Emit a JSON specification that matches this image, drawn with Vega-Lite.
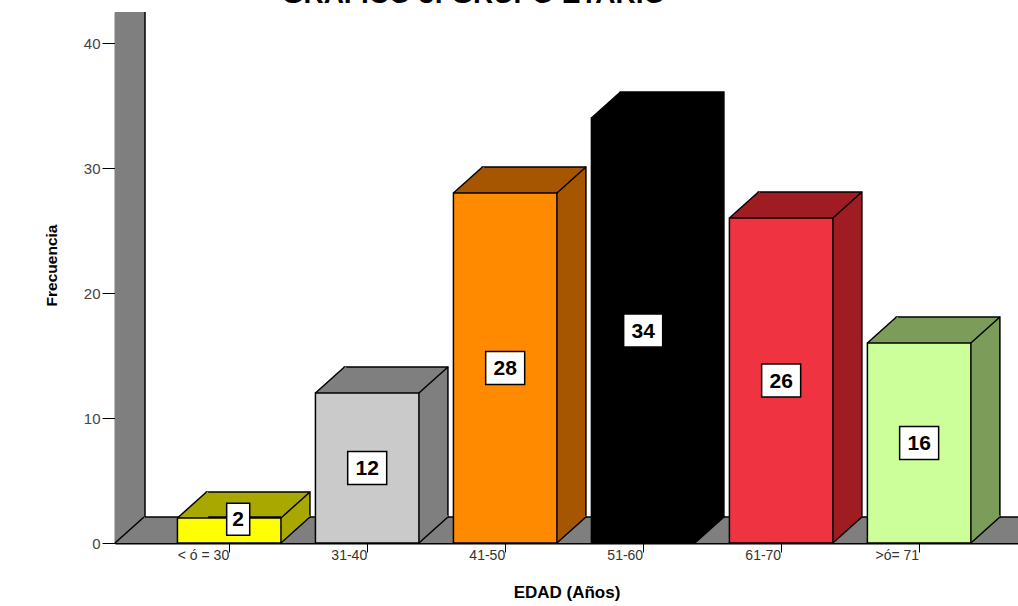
{
  "$schema": "https://vega.github.io/schema/vega-lite/v6.json",
  "width": 903,
  "height": 531,
  "autosize": {"type": "none"},
  "padding": {"left": 115, "top": 12, "right": 0, "bottom": 63},
  "title": {"text": "GRAFICO 3: GRUPO ETARIO", "font": "Liberation Sans", "fontSize": 28, "fontWeight": "bold", "color": "#000000", "anchor": "middle", "dx": -93, "baseline": "alphabetic", "offset": 2, "dy": 22},
  "config": {"view": {"stroke": null}, "font": "Liberation Sans"},
  "data": {"values": [
    {"edad": "< ó = 30", "valor": 2},
    {"edad": "31-40", "valor": 12},
    {"edad": "41-50", "valor": 28},
    {"edad": "51-60", "valor": 34},
    {"edad": "61-70", "valor": 26},
    {"edad": ">ó= 71", "valor": 16}
  ]},
  "layer": [
    {
      "data": {"values": [{"z": 0}]},
      "mark": {"type": "rect", "fill": "#7f7f7f", "y2Offset": -26},
      "encoding": {"x": {"value": 0}, "x2": {"value": "width"}, "y": {"datum": 0, "type": "quantitative", "scale": {"domain": [0, 42.48], "nice": false}}, "y2": {"datum": 0}}
    },
    {
      "data": {"values": [{"z": 0}]},
      "mark": {"type": "rect", "fill": "#7f7f7f"},
      "encoding": {"x": {"value": 0}, "x2": {"value": 30}, "y": {"datum": 0, "type": "quantitative"}, "y2": {"value": 0}}
    },
    {
      "data": {"values": [{"z": 0}]},
      "mark": {"type": "rule", "stroke": "#000000", "strokeWidth": 1.5, "yOffset": -26},
      "encoding": {"x": {"value": 30}, "y": {"datum": 0, "type": "quantitative"}, "y2": {"value": 0}}
    },
    {
      "data": {"values": [{"z": 0}]},
      "mark": {"type": "rule", "stroke": "#000000", "strokeWidth": 1.5, "yOffset": -26, "y2Offset": -26},
      "encoding": {"x": {"value": 30}, "x2": {"value": "width"}, "y": {"datum": 0, "type": "quantitative"}}
    },
    {
      "data": {"values": [{"z": 0}]},
      "mark": {"type": "point", "shape": "M0,0L1,-0.897", "size": 3364, "filled": false, "stroke": "#000000", "strokeWidth": 1.5, "opacity": 1},
      "encoding": {"x": {"value": 0}, "y": {"datum": 0, "type": "quantitative"}}
    },
    {
      "mark": {"type": "bar", "xOffset": 29, "x2Offset": 29, "yOffset": -26, "y2Offset": -26, "stroke": "#000000", "strokeWidth": 1.5},
      "encoding": {
        "x": {"field": "edad", "type": "nominal", "sort": null, "scale": {"paddingInner": 0.25, "paddingOuter": 0.397, "align": 0.57}},
        "y": {"field": "valor", "type": "quantitative", "scale": {"domain": [0, 42.48], "nice": false}},
        "fill": {"field": "edad", "type": "nominal", "sort": null, "legend": null, "scale": {"domain": ["< ó = 30", "31-40", "41-50", "51-60", "61-70", ">ó= 71"], "range": ["#a8a800", "#7f7f7f", "#a65600", "#000000", "#9e1c22", "#7c9c5a"]}}
      }
    },
    {
      "mark": {"type": "point", "shape": "M0,0L1,-0.897L1.06,-0.897L1.06,0Z", "size": 3364, "filled": true, "strokeWidth": 0, "opacity": 1},
      "encoding": {
        "x": {"field": "edad", "type": "nominal", "sort": null, "bandPosition": 0},
        "y": {"field": "valor", "type": "quantitative"},
        "fill": {"field": "edad", "type": "nominal", "sort": null, "legend": null}
      }
    },
    {
      "mark": {"type": "point", "shape": "M0,0L0,-0.95L1,-0.95L1,-0.897Z", "size": 3364, "filled": true, "strokeWidth": 0, "opacity": 1},
      "encoding": {
        "x": {"field": "edad", "type": "nominal", "sort": null, "bandPosition": 1},
        "y": {"datum": 0, "type": "quantitative"},
        "fill": {"field": "edad", "type": "nominal", "sort": null, "legend": null}
      }
    },
    {
      "mark": {"type": "bar", "stroke": "#000000", "strokeWidth": 1.5},
      "encoding": {
        "x": {"field": "edad", "type": "nominal", "sort": null, "axis": {"title": "EDAD (Años)", "titleFont": "Liberation Sans", "titleFontSize": 17, "titleFontWeight": "bold", "titleColor": "#000000", "titlePadding": 22, "labelAngle": 0, "labelFont": "Liberation Sans", "labelFontSize": 14, "labelColor": "#333333", "labelPadding": 3, "tickSize": 9, "tickColor": "#000000", "tickWidth": 1, "domainColor": "#000000", "domainWidth": 2}},
        "y": {"field": "valor", "type": "quantitative", "axis": {"title": "Frecuencia", "titleFont": "Liberation Sans", "titleFontSize": 15.5, "titleFontWeight": "bold", "titleColor": "#000000", "titlePadding": 24, "titleY": 253, "values": [0, 10, 20, 30, 40], "grid": false, "labelFont": "Liberation Sans", "labelFontSize": 15, "labelColor": "#444444", "labelPadding": 2, "tickSize": 13, "tickColor": "#000000", "tickWidth": 1, "domainColor": "#000000", "domainWidth": 1.5}},
        "color": {"field": "edad", "type": "nominal", "sort": null, "legend": null, "scale": {"domain": ["< ó = 30", "31-40", "41-50", "51-60", "61-70", ">ó= 71"], "range": ["#ffff00", "#cacaca", "#ff8a00", "#000000", "#ef3340", "#ccff99"]}}
      }
    },
    {
      "mark": {"type": "point", "shape": "M0,0L1,-0.897", "size": 3364, "filled": false, "stroke": "#000000", "strokeWidth": 1.5, "opacity": 1},
      "encoding": {"x": {"field": "edad", "type": "nominal", "sort": null, "bandPosition": 0}, "y": {"field": "valor", "type": "quantitative"}}
    },
    {
      "mark": {"type": "point", "shape": "M0,0L1,-0.897", "size": 3364, "filled": false, "stroke": "#000000", "strokeWidth": 1.5, "opacity": 1},
      "encoding": {"x": {"field": "edad", "type": "nominal", "sort": null, "bandPosition": 1}, "y": {"field": "valor", "type": "quantitative"}}
    },
    {
      "mark": {"type": "point", "shape": "M0,0L1,-0.897", "size": 3364, "filled": false, "stroke": "#000000", "strokeWidth": 1.5, "opacity": 1},
      "encoding": {"x": {"field": "edad", "type": "nominal", "sort": null, "bandPosition": 1}, "y": {"datum": 0, "type": "quantitative"}}
    },
    {
      "transform": [{"filter": "datum.valor >= 10"}],
      "mark": {"type": "point", "shape": "M-1,-0.85H1V0.85H-1Z", "size": 1521, "filled": true, "fill": "#ffffff", "stroke": "#000000", "strokeWidth": 1.5, "opacity": 1},
      "encoding": {
        "x": {"field": "edad", "type": "nominal", "sort": null},
        "y": {"field": "valor", "type": "quantitative", "stack": "zero", "bandPosition": 0.5}
      }
    },
    {
      "transform": [{"filter": "datum.valor >= 10"}],
      "mark": {"type": "text", "font": "Liberation Sans", "fontSize": 21, "fontWeight": "bold", "color": "#000000", "align": "center", "baseline": "middle", "dy": 1},
      "encoding": {
        "x": {"field": "edad", "type": "nominal", "sort": null},
        "y": {"field": "valor", "type": "quantitative", "stack": "zero", "bandPosition": 0.5},
        "text": {"field": "valor", "type": "quantitative"}
      }
    },
    {
      "transform": [{"filter": "datum.valor < 10"}],
      "mark": {"type": "point", "shape": "M-0.72,-1H0.72V1H-0.72Z", "size": 1024, "filled": true, "fill": "#ffffff", "stroke": "#000000", "strokeWidth": 1.5, "opacity": 1, "xOffset": 9},
      "encoding": {
        "x": {"field": "edad", "type": "nominal", "sort": null},
        "y": {"field": "valor", "type": "quantitative", "stack": "zero", "bandPosition": 0.95}
      }
    },
    {
      "transform": [{"filter": "datum.valor < 10"}],
      "mark": {"type": "text", "font": "Liberation Sans", "fontSize": 21, "fontWeight": "bold", "color": "#000000", "align": "center", "baseline": "middle", "dy": 1, "xOffset": 9},
      "encoding": {
        "x": {"field": "edad", "type": "nominal", "sort": null},
        "y": {"field": "valor", "type": "quantitative", "stack": "zero", "bandPosition": 0.95},
        "text": {"field": "valor", "type": "quantitative"}
      }
    }
  ]
}
